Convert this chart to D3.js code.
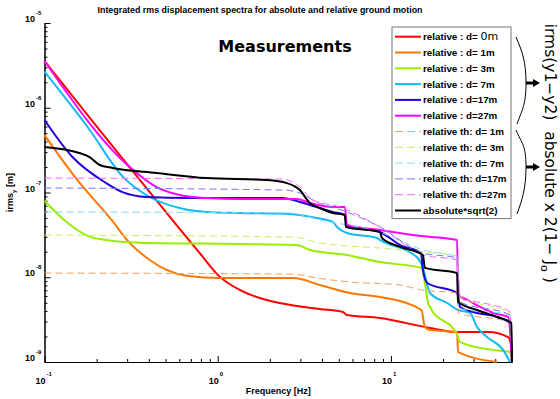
<!DOCTYPE html>
<html>
<head>
<meta charset="utf-8">
<script src="https://cdn.jsdelivr.net/npm/d3@7"></script>
<style>
  body { margin: 0; background: #fff; }
  svg text { font-family: "Liberation Sans", Arial, sans-serif; font-weight: bold; }
</style>
</head>
<body>
<svg id="chart" width="560" height="399"></svg>
<script>
// ---- data: [frequency Hz, integrated rms m] ----
var relD0 = [[0.1,3.56e-6],[0.208,5.46e-7],[0.405,1.01e-7],[0.787,1.93e-8],[1.03,1.01e-8],[1.34,7.08e-9],[1.75,5.69e-9],[2.28,4.97e-9],[3.89,4.22e-9],[5.28,3.89e-9],[5.57,3.59e-9],[8.64,3.31e-9],[16.8,2.52e-9],[24.1,2.26e-9],[36.4,2.26e-9],[47.5,1.97e-9],[49.4,1.59e-9],[50,1e-9]];
var relD1 = [[0.1,4.76e-7],[0.155,1.40e-7],[0.244,4.74e-8],[0.310,2.54e-8],[0.405,1.60e-8],[0.507,1.22e-8],[0.662,1.04e-8],[1.03,9.79e-9],[2.72,9.79e-9],[3.89,8.11e-9],[5.80,6.52e-9],[8.64,5.85e-9],[15.0,4.11e-9],[15.7,2.59e-9],[16.8,2.39e-9],[24.1,2.26e-9],[24.4,1.31e-9],[41,1e-9]];
var relD3 = [[0.1,8.00e-8],[0.1335,4.52e-8],[0.182,3.01e-8],[0.227,2.75e-8],[0.354,2.56e-8],[1.34,2.47e-8],[2.86,2.40e-8],[3.40,2.10e-8],[5.57,1.83e-8],[8.64,1.51e-8],[15.0,1.29e-8],[15.7,8.55e-9],[16.4,4.97e-9],[16.8,4.46e-9],[24.1,2.09e-9],[25.1,1.72e-9],[38.9,1.39e-9],[48.7,1.31e-9],[50,1e-9]];
var relD7 = [[0.1,2.66e-6],[0.182,5.50e-7],[0.282,1.55e-7],[0.405,8.85e-8],[0.603,6.56e-8],[0.863,5.89e-8],[1.34,5.73e-8],[2.61,5.57e-8],[3.73,5.00e-8],[4.62,4.49e-8],[4.88,3.92e-8],[5.57,3.33e-8],[8.30,2.90e-8],[8.64,2.75e-8],[14.1,1.73e-8],[15.3,1.29e-8],[16.8,6.52e-9],[21.1,4.97e-9],[24.4,4.11e-9],[28.6,3.79e-9],[31.4,2.59e-9],[35.9,1.97e-9],[44.4,1.39e-9],[48.7,1e-9]];
var relD17 = [[0.1,7.16e-7],[0.145,2.62e-7],[0.227,1.29e-7],[0.282,1.01e-7],[0.389,8.85e-8],[0.689,8.61e-8],[2.38,8.61e-8],[2.98,7.73e-8],[3.40,7.13e-8],[4.62,5.89e-8],[5.42,5.43e-8],[5.57,4.03e-8],[8.64,3.42e-8],[11.3,2.40e-8],[14.9,1.93e-8],[15.3,1.22e-8],[16.2,8.55e-9],[24.1,6.52e-9],[25.1,4.46e-9],[31.4,3.79e-9],[41,3.40e-9],[48.7,2.88e-9],[50,1e-9]];
var relD27 = [[0.1,3.56e-6],[0.310,2.00e-7],[0.444,1.16e-7],[0.603,9.36e-8],[0.863,8.61e-8],[1.34,8.38e-8],[2.86,8.38e-8],[3.40,7.52e-8],[4.62,6.75e-8],[5.42,6.75e-8],[5.57,4.14e-8],[8.64,3.61e-8],[15.0,3.07e-8],[24.1,2.75e-8],[24.4,6.18e-9],[27.5,5.40e-9],[38.9,3.79e-9],[47.5,3.40e-9],[50,1e-9]];
var thD1 = [[0.1,1.12e-8],[2.72,1.09e-8],[3.73,9.79e-9],[5.80,8.80e-9],[11.3,8.11e-9],[15.0,7.08e-9],[24.1,6.52e-9],[24.4,3.79e-9],[48.7,2.96e-9],[50,1e-9]];
var thD3 = [[0.1,3.15e-8],[2.72,2.98e-8],[3.89,2.54e-8],[8.64,2.21e-8],[15.3,1.99e-8],[24.1,1.78e-8],[25.1,5.85e-9],[48.7,3.79e-9],[50,1e-9]];
var thD7 = [[0.1,5.89e-8],[2.61,5.73e-8],[3.89,4.74e-8],[8.64,3.40e-8],[15.3,2.10e-8],[24.1,1.73e-8],[24.4,4.30e-9],[48.7,3.60e-9],[50,1e-9]];
var thD17 = [[0.1,1.13e-7],[2.38,1.07e-7],[2.98,9.86e-8],[3.73,7.73e-8],[5.57,5.89e-8],[8.64,3.92e-8],[15.3,1.93e-8],[24.1,1.69e-8],[25.1,5.11e-9],[48.7,3.59e-9],[50,1e-9]];
var thD27 = [[0.1,1.48e-7],[2.38,1.44e-7],[2.98,1.16e-7],[3.54,8.16e-8],[5.07,6.75e-8],[8.64,3.92e-8],[15.3,1.83e-8],[24.1,1.60e-8],[25.1,6.18e-9],[48.7,3.89e-9],[50,1e-9]];
var absSqrt2 = [[0.1,3.44e-7],[0.159,2.92e-7],[0.182,2.62e-7],[0.208,2.11e-7],[0.247,1.95e-7],[0.444,1.70e-7],[0.863,1.48e-7],[1.92,1.40e-7],[2.51,1.29e-7],[2.98,1.07e-7],[3.40,7.52e-8],[3.89,6.56e-8],[4.62,5.73e-8],[5.42,5.43e-8],[5.50,3.92e-8],[8.64,3.42e-8],[8.87,2.90e-8],[11.3,2.28e-8],[15.3,1.83e-8],[15.7,1.29e-8],[24.1,1.12e-8],[24.4,5.11e-9],[31.4,4.11e-9],[41,3.40e-9],[49.6,2.88e-9],[50,1e-9]];

var seriesNames = ['relative : d= 0m', 'relative : d= 1m', 'relative : d= 3m', 'relative : d= 7m',
    'relative : d=17m', 'relative : d=27m', 'relative th: d= 1m', 'relative th: d= 3m',
    'relative th: d= 7m', 'relative th: d=17m', 'relative th: d=27m', 'absolute*sqrt(2)'];
var seriesData = [relD0, relD1, relD3, relD7, relD17, relD27, thD1, thD3, thD7, thD17, thD27, absSqrt2];
var seriesColors = ['#ff0000', '#ff7700', '#99ee00', '#11bbf5', '#2200dd', '#ff00ff',
    '#f5a060', '#c4f060', '#80dcff', '#7f70ff', '#ff66ff', '#000000'];
var seriesDashed = [false, false, false, false, false, false, true, true, true, true, true, false];

var yTicks = [1e-9, 1e-8, 1e-7, 1e-6, 1e-5];
var xTicks = [0.1, 1, 10];

var svg = d3.select('#chart');

// axes frame
var plot = {l: 44.5, r: 512, t: 23, b: 362};
var x = d3.scaleLog().domain([0.1, 50]).range([plot.l, plot.r]);
var y = d3.scaleLog().domain([1e-9, 1e-5]).range([plot.b, plot.t]);

// title + big label
svg.append('text').attr('x', 260).attr('y', 13).attr('text-anchor', 'middle')
    .style('font-size', '9px').attr('textLength', 325).attr('lengthAdjust', 'spacingAndGlyphs')
    .text('Integrated rms displacement spectra for absolute and relative ground motion');
svg.append('text').attr('x', 285).attr('y', 52).attr('text-anchor', 'middle')
    .style('font-family', '"DejaVu Sans", sans-serif').style('font-size', '16px')
    .text('Measurements');

// minor + major ticks (inward, matlab style)
var minorY = [];
yTicks.forEach(function(t) { for (var k = 2; k < 10; k++) if (t * k < 1e-5) minorY.push(t * k); });
var minorX = [];
xTicks.forEach(function(t) { for (var k = 2; k < 10; k++) if (t * k <= 50) minorX.push(t * k); });

var yAxisG = svg.append('g').attr('transform', 'translate(' + plot.l + ',0)');
yAxisG.call(d3.axisLeft(y).tickValues(minorY).tickSize(-3).tickSizeOuter(0).tickFormat(''));
yAxisG.append('g').call(d3.axisLeft(y).tickValues(yTicks).tickSize(-6).tickSizeOuter(0).tickFormat(''));
var xAxisG = svg.append('g').attr('transform', 'translate(0,' + plot.b + ')');
xAxisG.call(d3.axisBottom(x).tickValues(minorX).tickSize(-3).tickSizeOuter(0).tickFormat(''));
xAxisG.append('g').call(d3.axisBottom(x).tickValues(xTicks).tickSize(-6).tickSizeOuter(0).tickFormat(''));
svg.selectAll('.domain, .tick line').attr('stroke', '#000').attr('stroke-width', 1);

// tick labels 10^n
yTicks.forEach(function(t) {
    var e = Math.round(Math.log10(t));
    svg.append('text').attr('x', 35).attr('y', y(t) - 1).attr('text-anchor', 'end')
        .style('font-size', '9px').text('10');
    svg.append('text').attr('x', 36).attr('y', y(t) - 8).style('font-size', '6px').text(e);
});
xTicks.forEach(function(t) {
    var e = Math.round(Math.log10(t));
    svg.append('text').attr('x', x(t) + 1).attr('y', 384).attr('text-anchor', 'end')
        .style('font-size', '9px').text('10');
    svg.append('text').attr('x', x(t) + 2).attr('y', 376).style('font-size', '6px').text(e);
});

// axis labels
svg.append('text').attr('x', (plot.l + plot.r) / 2).attr('y', 394).attr('text-anchor', 'middle')
    .style('font-size', '9px').text('Frequency [Hz]');
var yl = svg.append('text').attr('transform', 'translate(13,' + (plot.t + plot.b) / 2 + ') rotate(-90)')
    .attr('text-anchor', 'middle').style('font-size', '9px');
yl.append('tspan').text('irms');
yl.append('tspan').attr('dy', 3).style('font-size', '6px').text('y');
yl.append('tspan').attr('dy', -3).text(' [m]');

// curves (smooth between read points, steps stay steep)
var line = d3.line()
    .curve(d3.curveMonotoneX)
    .x(function(d) { return x(d[0]); })
    .y(function(d) { return y(Math.max(d[1], 1e-9)); });

seriesData.forEach(function(s, i) {
    svg.append('path').datum(s)
        .attr('d', line)
        .attr('fill', 'none')
        .attr('stroke', seriesColors[i])
        .attr('stroke-width', seriesDashed[i] ? 1 : 2)
        .attr('stroke-dasharray', seriesDashed[i] ? '7,4' : null);
});

// legend
var lg = {x: 392, y: 27, w: 119, row: 15.8};
svg.append('rect').attr('x', lg.x).attr('y', lg.y).attr('width', lg.w)
    .attr('height', seriesNames.length * lg.row + 2)
    .attr('fill', '#fff').attr('stroke', '#777').attr('stroke-width', 1);
seriesNames.forEach(function(name, i) {
    var ry = lg.y + 9.7 + i * lg.row;
    svg.append('line').attr('x1', lg.x + 3).attr('x2', lg.x + 29).attr('y1', ry).attr('y2', ry)
        .attr('stroke', seriesColors[i]).attr('stroke-width', seriesDashed[i] ? 1 : 2)
        .attr('stroke-dasharray', seriesDashed[i] ? '8,4' : null);
    var t = svg.append('text').attr('x', lg.x + 31).attr('y', ry + 3.5).style('font-size', '9.8px');
    if (i === 0) {
        // the first entry's "0m" came out in a different font in the original
        t.append('tspan').text('relative : d= ');
        t.append('tspan').style('font-family', '"DejaVu Sans", sans-serif').style('font-weight', 'normal')
            .style('font-size', '11px').text('0m');
    } else {
        t.text(name);
    }
});

// braces, arrows and side notes
var braces = [[37, 83, 124], [130, 167, 214]];
braces.forEach(function(b) {
    svg.append('path')
        .attr('d', 'M516,' + b[0] + ' C522,' + (b[0] + 14) + ' 526,' + (b[1] - 22) + ' 526,' + b[1] +
              ' C526,' + (b[1] + 22) + ' 522,' + (b[2] - 14) + ' 517,' + b[2])
        .attr('fill', 'none').attr('stroke', '#000').attr('stroke-width', 1);
    svg.append('line').attr('x1', 526).attr('x2', 534).attr('y1', b[1]).attr('y2', b[1])
        .attr('stroke', '#000').attr('stroke-width', 3);
    svg.append('path').attr('d', 'M533,' + (b[1] - 4) + ' L540,' + b[1] + ' L533,' + (b[1] + 4) + 'Z')
        .attr('fill', '#000');
});
var note1 = svg.append('text').attr('transform', 'translate(545,72) rotate(90)')
    .attr('text-anchor', 'middle')
    .style('font-family', '"DejaVu Sans", sans-serif').style('font-weight', 'normal').style('font-size', '15.5px')
    .text('irms(y1\u2212y2)');
var note2 = svg.append('text').attr('transform', 'translate(545,207) rotate(90)')
    .attr('text-anchor', 'middle')
    .style('font-family', '"DejaVu Sans", sans-serif').style('font-weight', 'normal').style('font-size', '15.5px');
note2.append('tspan').text('absolute x 2(1\u2212 J');
note2.append('tspan').attr('dy', 4).style('font-size', '11px').text('o');
note2.append('tspan').attr('dy', -4).text(' )');
</script>
</body>
</html>
